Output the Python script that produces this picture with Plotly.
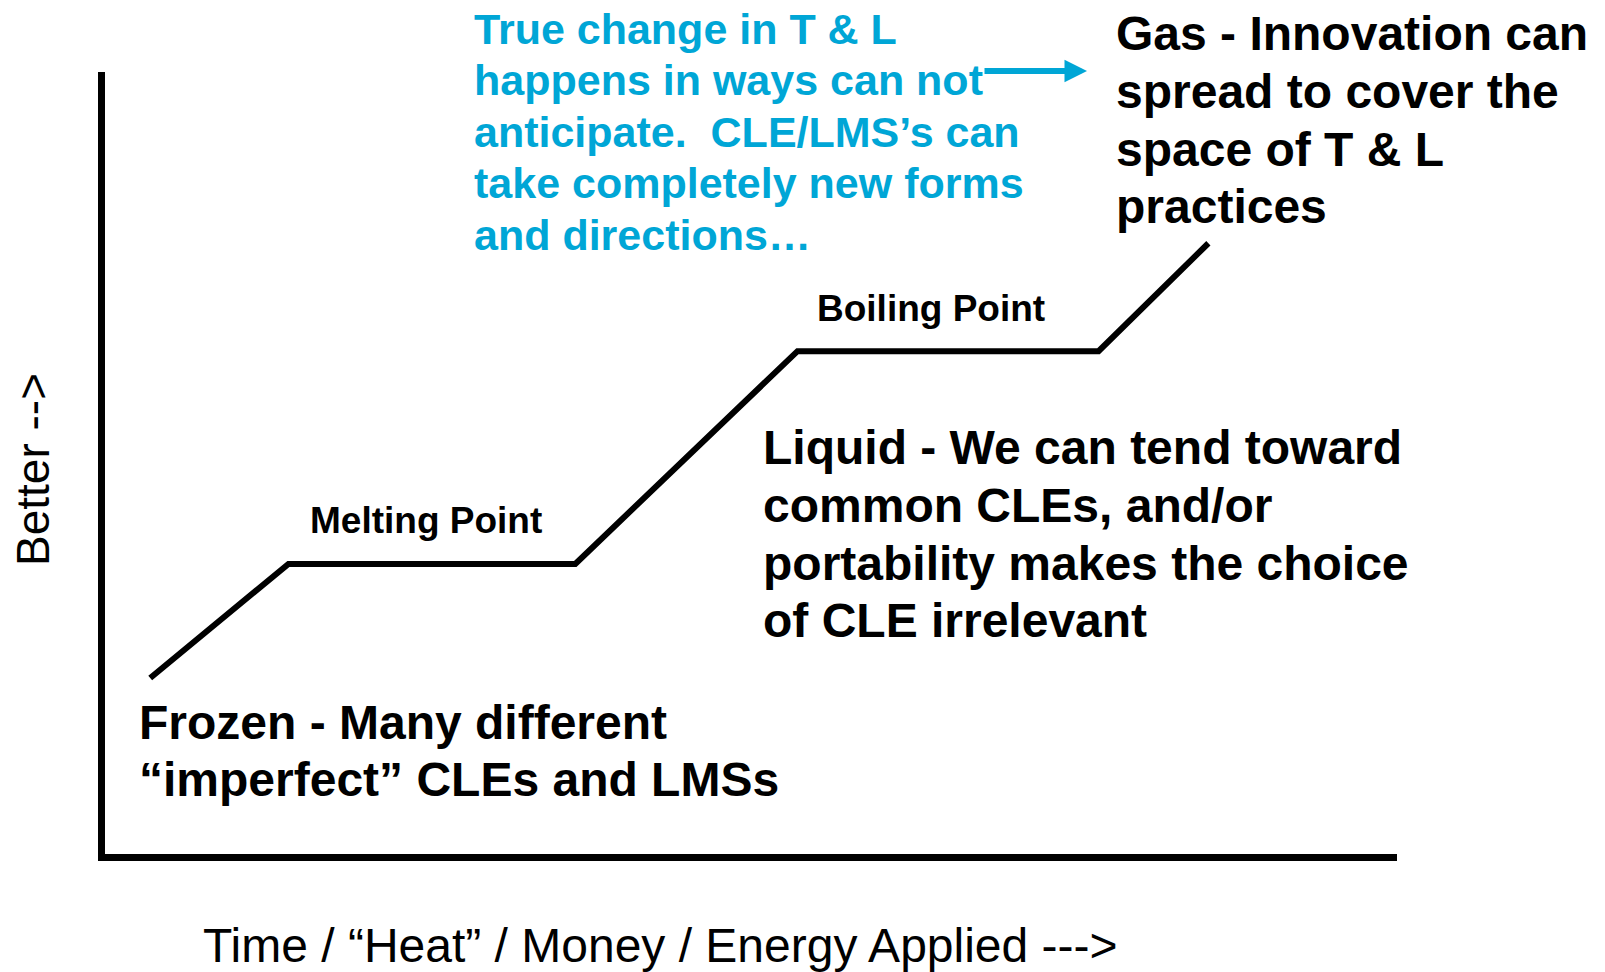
import plotly.graph_objects as go

# ---- data (x: 0-100 "energy applied", y: 0-100 "better") ----
phase_x = [3.5, 14.2, 36.4, 53.6, 76.9, 85.4]
phase_y = [22.5, 37.1, 37.1, 64.3, 64.3, 78.1]

blue_lines = [
    "True change in T &amp; L",
    "happens in ways can not",
    "anticipate.  CLE/LMS’s can",
    "take completely new forms",
    "and directions…",
]
gas_lines = [
    "Gas - Innovation can",
    "spread to cover the",
    "space of T &amp; L",
    "practices",
]
liquid_lines = [
    "Liquid - We can tend toward",
    "common CLEs, and/or",
    "portability makes the choice",
    "of CLE irrelevant",
]
frozen_lines = [
    "Frozen - Many different",
    "“imperfect” CLEs and LMSs",
]
point_labels = ["Melting Point", "Boiling Point"]
x_title = "Time / “Heat” / Money / Energy Applied --->"
y_title = "Better -->"

# ---- layout geometry (page has an 8px body margin) ----
OFF = 8
W, H = 1605 - OFF, 972 - OFF
PL, PR, PT, PB = 105, 1397, 72, 854          # plot area in page pixels
L, T = PL - OFF, PT - OFF
R, B = W - (PR - OFF), H - (PB - OFF)
PW, PH = PR - PL, PB - PT


def X(px):
    return (px - PL) / PW


def Y(py):
    return (PB - py) / PH


BLUE = "#00A6D6"
FONT = "Liberation Sans, Arial, sans-serif"

fig = go.Figure()
fig.add_trace(go.Scatter(
    x=phase_x, y=phase_y, mode="lines",
    line=dict(color="black", width=6),
    hoverinfo="skip", showlegend=False,
))

ann = []


def block(lines, left, top, step, size, color="black", bold=True):
    for i, t in enumerate(lines):
        ann.append(dict(
            x=X(left), y=Y(top + i * step), xref="paper", yref="paper",
            text=f"<b>{t}</b>" if bold else t, showarrow=False,
            xanchor="left", yanchor="middle",
            font=dict(family=FONT, size=size, color=color),
        ))


block(blue_lines, 472, 29, 51.4, 43, BLUE)
block(gas_lines, 1114, 34, 57.6, 48)
block(liquid_lines, 761, 448, 57.6, 48)
block(frozen_lines, 137, 722, 57.6, 48)
block([point_labels[0]], 308, 520, 0, 37)
block([point_labels[1]], 815, 308, 0, 37)
block([x_title], 201, 945, 0, 48, bold=False)

ann.append(dict(
    x=X(33), y=Y(470), xref="paper", yref="paper", text=y_title,
    showarrow=False, textangle=-90, xanchor="center", yanchor="middle",
    font=dict(family=FONT, size=46, color="black"),
))

# blue arrow (tip at 1087px, tail at 983px)
ann.append(dict(
    x=X(1087), y=Y(71), xref="paper", yref="paper",
    ax=-(1087 - 983), ay=0, axref="pixel", ayref="pixel",
    text="", showarrow=True,
    arrowhead=2, arrowwidth=6, arrowsize=0.75, arrowcolor=BLUE, standoff=0,
))

axis_common = dict(
    showline=True, linecolor="black", linewidth=7, showgrid=False,
    zeroline=False, showticklabels=False, ticks="", range=[0, 100],
    fixedrange=True,
)

fig.update_layout(
    width=W, height=H,
    margin=dict(l=L, r=R, t=T, b=B, pad=0),
    paper_bgcolor="white", plot_bgcolor="white",
    xaxis=axis_common, yaxis=axis_common,
    annotations=ann, showlegend=False, hovermode=False,
)

fig.write_html("out.html", config={"displayModeBar": False})
